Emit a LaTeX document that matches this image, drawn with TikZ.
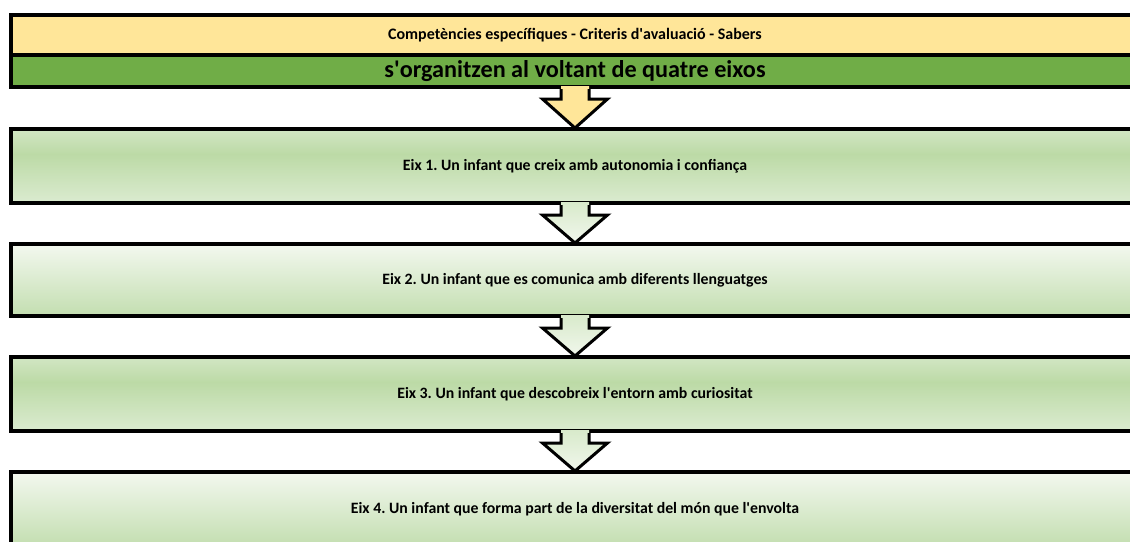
\documentclass[tikz,border=0pt]{standalone}
\usepackage{fontspec}
\setmainfont{Carlito}
\usetikzlibrary{calc}
\frenchspacing
\definecolor{hdrYellow}{HTML}{FFE699}
\definecolor{hdrGreen}{HTML}{70AD47}
\definecolor{aTop}{HTML}{D2E6C4}
\definecolor{aDark}{HTML}{BCDAA6}
\definecolor{aBot}{HTML}{DBEBD0}
\definecolor{bTop}{HTML}{F3F8EF}
\definecolor{bBot}{HTML}{C3DEB0}
\definecolor{arTop}{HTML}{D8EACB}
\definecolor{arBot}{HTML}{F1F7EC}
\pgfdeclareverticalshading{eixA}{100bp}{color(0bp)=(aBot); color(25bp)=(aBot); color(58bp)=(aDark); color(75bp)=(aTop); color(100bp)=(aTop)}
\pgfdeclareverticalshading{eixB}{100bp}{color(0bp)=(bBot); color(25bp)=(bBot); color(75bp)=(bTop); color(100bp)=(bTop)}
\newcommand{\apo}{\textquotesingle}
\begin{document}
\begin{tikzpicture}[x=1pt,y=-1pt,
  box/.style={draw=black, line width=4pt, minimum width=1128pt, inner sep=0pt,
    font=\bfseries\fontsize{15.8}{18}\selectfont, text=black},
  arrowline/.style={draw=black, line width=3pt, line join=miter, line cap=butt},
  arrY/.style={fill=hdrYellow},
  arrG/.style={top color=arTop, bottom color=arBot}]
\useasboundingbox (0,0) rectangle (1130,541);
\clip (0,0) rectangle (1130,541);
\fill[white] (0,0) rectangle (1130,541);
\node[box, fill=hdrYellow, minimum height=40pt, font=\bfseries\fontsize{16}{18}\selectfont] (hdr) at (575,35)
  {Competències específiques - Criteris d\apo avaluació - Sabers};
\node[box, fill=hdrGreen, minimum height=32pt, font=\bfseries\fontsize{24.2}{28}\selectfont] (sub) at (575,71)
  {\raisebox{-1.5pt}{s\apo organitzen al voltant de quatre eixos}};
\node[box, shading=eixA, minimum height=74pt] (e1) at (575,166)
  {Eix 1. Un infant que creix amb autonomia i confiança};
\node[box, shading=eixB, minimum height=72pt] (e2) at (575,280)
  {Eix 2. Un infant que es comunica amb diferents llenguatges};
\node[box, shading=eixA, minimum height=74pt] (e3) at (575,394)
  {Eix 3. Un infant que descobreix l\apo entorn amb curiositat};
\node[box, shading=eixB, minimum height=74pt] (e4) at (575,509)
  {Eix 4. Un infant que forma part de la diversitat del món que l\apo envolta};
% arrows
\foreach \X/\Y/\st in {sub/e1/arrY, e1/e2/arrG, e2/e3/arrG, e3/e4/arrG}{
  \path[\st] ($(\X.south)+(-14,-3)$) -- ($(\X.south)+(-14,10)$) -- ($(\X.south)+(-32.5,10)$)
    -- ($(\Y.north)+(0,1)$) -- ($(\X.south)+(32.5,10)$) -- ($(\X.south)+(14,10)$)
    -- ($(\X.south)+(14,-3)$) -- cycle;
  \draw[arrowline] ($(\X.south)+(-14,0)$) -- ($(\X.south)+(-14,10)$) -- ($(\X.south)+(-32.5,10)$)
    -- ($(\Y.north)+(0,1)$) -- ($(\X.south)+(32.5,10)$) -- ($(\X.south)+(14,10)$)
    -- ($(\X.south)+(14,0)$);
}
\end{tikzpicture}
\end{document}
